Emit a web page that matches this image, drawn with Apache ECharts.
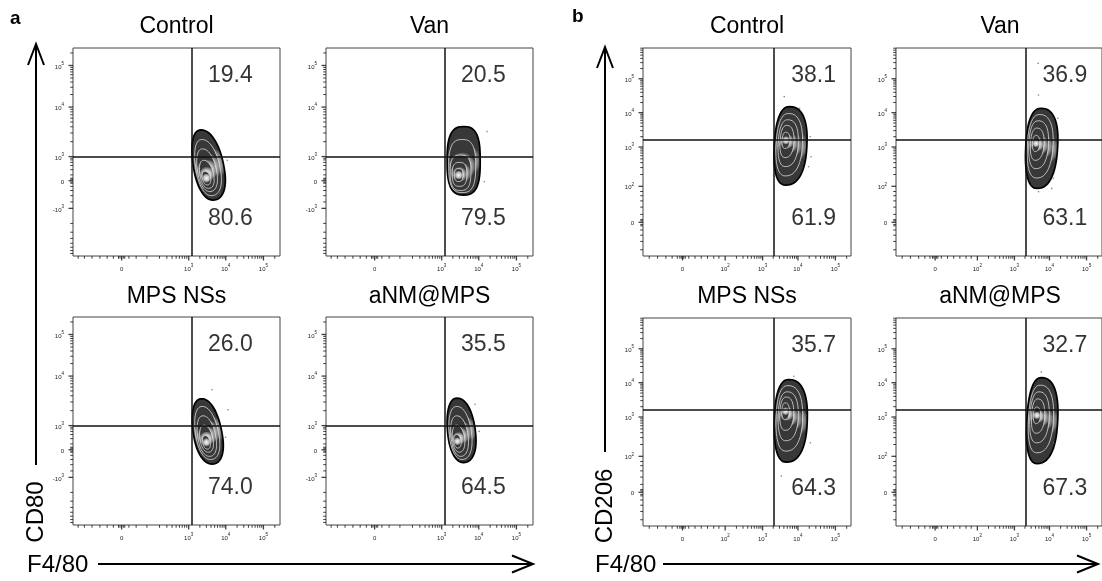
<!DOCTYPE html>
<html>
<head>
<meta charset="utf-8">
<script src="https://cdn.jsdelivr.net/npm/echarts@6/dist/echarts.min.js"></script>
<style>
  html, body { margin: 0; padding: 0; background: #fff; }
  #chart { width: 1102px; height: 581px; }
</style>
</head>
<body>
<div id="chart"></div>
<script>
// ---- data (display scale 0-100 on both axes) ----
const groupsA = ["Control", "Van", "MPS NSs", "aNM@MPS"];
const upperA = [19.4, 20.5, 26.0, 35.5];
const lowerA = [80.6, 79.5, 74.0, 64.5];
const groupsB = ["Control", "Van", "MPS NSs", "aNM@MPS"];
const upperB = [38.1, 36.9, 35.7, 32.7];
const lowerB = [61.9, 63.1, 64.3, 67.3];

// quadrant gates
const gateA = [57.4, 47.6];
const gateB = [62.8, 55.9];

// tick labels
const tickAxPos = [23.5, 55.9, 73.8, 92];
const tickAxText = ["0", "10^3", "10^4", "10^5"];
const tickAyPos = [22.9, 36.2, 47.8, 71.6, 91.6];
const tickAyText = ["-10^3", "0", "10^3", "10^4", "10^5"];
const tickBxPos = [19, 39.5, 57.5, 74.5, 92.5];
const tickBxText = ["0", "10^2", "10^3", "10^4", "10^5"];
const tickByPos = [16.2, 33.5, 52.4, 68.9, 85.2];
const tickByText = ["0", "10^2", "10^3", "10^4", "10^5"];

// contour levels, outer -> inner: [cx, cy, left, right, top, bottom]
const blobA_control = [[65, 42, 6.7, 8.1, 18.6, 15.1], [64.8, 41, 5.3, 6.5, 15, 12], [64.5, 40, 4.2, 5, 11.5, 9], [64.4, 38.5, 3, 3.6, 7.5, 6], [64.3, 37.2, 1.8, 2.2, 3.5, 3]];
const blobA_van = [[66.5, 45.7, 8, 8, 16.5, 16.4], [65.8, 43, 6.5, 6.5, 13, 12.5], [65, 40.5, 5, 5, 8, 9], [64.5, 39.5, 3.5, 3.5, 5.5, 6], [64.1, 39, 2, 2, 3, 3.2]];
const blobA_mps = [[65, 43, 6.7, 7.2, 17.7, 13.7], [64.8, 42.5, 5.4, 5.8, 14.5, 11], [64.6, 41.5, 4.2, 4.5, 11, 8.5], [64.5, 40.5, 3, 3.2, 7.5, 5.5], [64.4, 39.5, 1.7, 1.9, 3.5, 3]];
const blobA_anm = [[65, 44, 6.2, 7.3, 17, 14], [64.6, 43, 5, 5.8, 14, 11.5], [64.2, 42, 3.8, 4.5, 10.5, 9], [63.8, 41, 2.7, 3.2, 7, 6], [63.4, 40, 1.6, 1.8, 3.5, 3]];
const blobB_control = [[69.5, 53, 6.4, 9.3, 18.8, 18.9], [69.2, 53.5, 5.2, 7.4, 15, 15], [69, 54, 4, 5.6, 11.5, 11], [68.7, 54.8, 2.8, 3.8, 8, 7.5], [68.4, 55.5, 1.5, 2.2, 4, 3.8]];
const blobB_van = [[69.5, 53, 6.5, 9, 18, 20.5], [69, 53.5, 5.2, 7.2, 14.5, 16], [68.5, 54, 4, 5.5, 11, 12], [68, 54, 2.7, 3.8, 7.5, 8], [67.7, 54.2, 1.4, 2, 3.8, 4]];
const blobB_mps = [[69.5, 51, 6.4, 9.5, 19.4, 20.3], [69.2, 52, 5.2, 7.5, 15.5, 16], [69, 53, 4, 5.6, 11.5, 12], [68.6, 54, 2.8, 3.8, 8, 8], [68.3, 55.2, 1.5, 2, 4, 4]];
const blobB_anm = [[69.5, 50.5, 6, 9, 20.8, 20.5], [69.2, 51.2, 4.9, 7.2, 16.5, 16], [68.8, 52, 3.8, 5.5, 12.5, 12], [68.4, 52.6, 2.6, 3.7, 8.5, 8], [68.1, 53.2, 1.4, 2, 4, 4]];
// [shear, squareness] of each blob
const blobShape = [[-0.17, 2.2], [0, 2.8], [-0.16, 2.2], [-0.1, 2.2], [0.05, 2.4], [0.05, 2.4], [0.03, 2.4], [0.05, 2.4]];

// outlier events
const dotsA_control = [[74.5, 46], [71, 30]];
const dotsA_van = [[77.8, 59.8], [76.5, 35.7]];
const dotsA_mps = [[67.1, 65], [74.9, 55.4], [73.7, 42.2]];
const dotsA_anm = [[72, 58], [74, 45]];
const dotsB_control = [[67.9, 76.6], [75.3, 71], [80.4, 57.4], [80.8, 47.7], [79.6, 42.9]];
const dotsB_van = [[69, 92.6], [69.2, 77.4], [78.5, 66.2], [76.4, 37.4], [75.6, 32.5], [69.2, 30.9]];
const dotsB_mps = [[72.5, 72], [80.5, 40], [66.5, 24]];
const dotsB_anm = [[70.5, 74], [76.5, 40], [71, 30]];

// ---- layout ----
const FONT = "'Liberation Sans', Arial, sans-serif";
const grids = [
  { left: 73, top: 48, width: 207, height: 208 },
  { left: 326, top: 48, width: 207, height: 208 },
  { left: 73, top: 317, width: 207, height: 208 },
  { left: 326, top: 317, width: 207, height: 208 },
  { left: 643, top: 48, width: 208, height: 208 },
  { left: 896, top: 48, width: 208, height: 208 },
  { left: 643, top: 318, width: 208, height: 208 },
  { left: 896, top: 318, width: 208, height: 208 }
];

// minor tick positions on the display scale (log decades between majors)
function logMinors(p0, p1, limit) {
  const out = [];
  for (let m = 2; m <= 9; m++) {
    const v = p0 + (p1 - p0) * Math.log10(m);
    if (limit === undefined || (v <= limit && v >= 0)) out.push(v);
  }
  return out;
}
function mirrorMinors(p0, d) {
  const out = [];
  for (let m = 2; m <= 9; m++) {
    const v = p0 - d * Math.log10(m);
    if (v >= 0) out.push(v);
  }
  return out;
}
const minorAx = [].concat(
  [2.5, 5.5, 9.2, 13, 16.5, 19.5, 22, 22.7, 24.3, 25, 27, 30.5, 35.7],
  logMinors(35.7, 55.9), logMinors(55.9, 73.8), logMinors(73.8, 92),
  logMinors(92, 110.2, 100));
const minorAy = [].concat(
  mirrorMinors(22.9, 24), [26, 29, 31.5, 33.5, 35, 35.5, 36.9, 37.4, 39, 41.5, 43.5, 45, 46.2, 47],
  logMinors(47.8, 71.6), logMinors(71.6, 91.6), logMinors(91.6, 111.6, 100));
const minorBx = [].concat(
  [3, 7, 11, 14, 16.5, 17.7, 18.4, 19.6, 20.3, 22, 25, 28, 31, 34, 36.5],
  logMinors(39.5, 57.5), logMinors(57.5, 74.5), logMinors(74.5, 92.5),
  logMinors(92.5, 110.5, 100));
const minorBy = [].concat(
  [3, 7, 10, 12.5, 14.5, 15.2, 16.9, 17.5, 20, 23.5, 26.5, 29, 31],
  logMinors(33.5, 52.4), logMinors(52.4, 68.9), logMinors(68.9, 85.2),
  logMinors(85.2, 101.5, 100));

function richText(t) {
  const p = t.split("^");
  return p.length === 1 ? "{b|" + t + "}" : "{b|" + p[0] + "}{s|" + p[1] + "}";
}
const labelRich = {
  b: { fontSize: 6, fontFamily: FONT, color: "#222", lineHeight: 9, verticalAlign: "bottom" },
  s: { fontSize: 4.5, fontFamily: FONT, color: "#222", lineHeight: 9, verticalAlign: "top" }
};

function makeAxis(dir, g, pos, text) {
  const isX = dir === "x";
  return {
    type: "value", gridIndex: g, min: 0, max: 100,
    position: isX ? "bottom" : "left",
    axisLine: { show: false }, splitLine: { show: false }, axisTick: { show: false },
    axisLabel: {
      show: true, customValues: pos, margin: isX ? 7 : 9, rich: labelRich,
      formatter: function (v) {
        const i = pos.findIndex(function (p) { return Math.abs(p - v) < 0.01; });
        return i < 0 ? "" : richText(text[i]);
      }
    }
  };
}

// tick marks: thin rect symbols placed on the frame edge through the axis scale
function tickSeries(g, dir, positions, len, width) {
  const isX = dir === "x";
  return {
    type: "scatter", xAxisIndex: g, yAxisIndex: g, silent: true, clip: false, z: 6,
    symbol: "rect",
    symbolSize: isX ? [width, len] : [len, width],
    symbolOffset: isX ? [0, len / 2] : [-len / 2, 0],
    itemStyle: { color: "#111" },
    data: positions.map(function (p) { return isX ? [p, 0] : [0, p]; })
  };
}

const blobs = [blobA_control, blobA_van, blobA_mps, blobA_anm, blobB_control, blobB_van, blobB_mps, blobB_anm];
const dots = [dotsA_control, dotsA_van, dotsA_mps, dotsA_anm, dotsB_control, dotsB_van, dotsB_mps, dotsB_anm];
const uppers = upperA.concat(upperB);
const lowers = lowerA.concat(lowerB);

const bandFill = {
  type: "radial", x: 0.5, y: 0.5, r: 0.5,
  colorStops: [
    { offset: 0, color: "#fafafa" }, { offset: 0.55, color: "#c4c4c4" },
    { offset: 0.85, color: "#767676" }, { offset: 1, color: "#383838" }
  ]
};

function blobRenderer(shear, n) {
  return function (params, api) {
    const cx = api.value(0), cy = api.value(1), L = api.value(2), R = api.value(3), T = api.value(4), B = api.value(5);
    const e = 2 / n, pts = [];
    for (let k = 0; k < 60; k++) {
      const t = k / 60 * 2 * Math.PI, c = Math.cos(t), s = Math.sin(t);
      const y = cy + Math.sign(s) * Math.pow(Math.abs(s), e) * (s > 0 ? T : B);
      const x = cx + Math.sign(c) * Math.pow(Math.abs(c), e) * (c > 0 ? R : L) + shear * (y - cy);
      pts.push(api.coord([x, y]));
    }
    const outer = params.dataIndex === 0;
    return {
      type: "polygon", shape: { points: pts },
      style: { fill: bandFill, stroke: outer ? "#000" : "#f2f2f2", lineWidth: outer ? 1.7 : 0.7 }
    };
  };
}

const xAxes = [], yAxes = [], series = [];
for (let g = 0; g < 8; g++) {
  const isA = g < 4;
  const xPos = isA ? tickAxPos : tickBxPos, yPos = isA ? tickAyPos : tickByPos;
  xAxes.push(makeAxis("x", g, xPos, isA ? tickAxText : tickBxText));
  yAxes.push(makeAxis("y", g, yPos, isA ? tickAyText : tickByText));
  series.push(tickSeries(g, "x", xPos, 4.5, 1.3));
  series.push(tickSeries(g, "x", isA ? minorAx : minorBx, 2.8, 1));
  series.push(tickSeries(g, "y", yPos, 4.5, 1.3));
  series.push(tickSeries(g, "y", isA ? minorAy : minorBy, 2.8, 1));
  const gate = isA ? gateA : gateB;
  const px = isA ? 76 : 82;
  series.push({
    type: "custom", xAxisIndex: g, yAxisIndex: g, z: 2, silent: true,
    encode: { x: 0, y: 1 },
    renderItem: blobRenderer(blobShape[g][0], blobShape[g][1]),
    data: blobs[g]
  });
  series.push({
    type: "scatter", xAxisIndex: g, yAxisIndex: g, z: 3, silent: true,
    symbolSize: 1.6, itemStyle: { color: "#666" },
    data: dots[g],
    markLine: {
      silent: true, symbol: "none", animation: false,
      label: { show: false },
      lineStyle: { color: "#111", width: 1.5, type: "solid" },
      emphasis: { disabled: true },
      data: [{ xAxis: gate[0] }, { yAxis: gate[1] }]
    }
  });
  series.push({
    type: "scatter", xAxisIndex: g, yAxisIndex: g, z: 4, silent: true,
    symbolSize: 0,
    label: {
      show: true, position: "inside", fontSize: 23, fontFamily: FONT, color: "#000",
      formatter: function (p) { return p.value[2].toFixed(1); }
    },
    data: [[px, 86.5, uppers[g]], [px, 17.8, lowers[g]]]
  });
}

const titleY = [27, 297];
const graphics = [
  { type: "text", x: 10, y: 19, style: { text: "a", font: "bold 19px " + FONT, fill: "#000", textVerticalAlign: "middle" } },
  { type: "text", x: 572, y: 17, style: { text: "b", font: "bold 19px " + FONT, fill: "#000", textVerticalAlign: "middle" } }
];
grids.forEach(function (gr, i) {
  const names = i < 4 ? groupsA : groupsB;
  graphics.push({
    type: "text", x: gr.left + gr.width / 2, y: titleY[(i % 4) < 2 ? 0 : 1],
    style: { text: names[i % 4], font: "23px " + FONT, fill: "#000", textAlign: "center", textVerticalAlign: "middle" }
  });
});
function arrowY(x, top, bottom) {
  return [
    { type: "line", shape: { x1: x, y1: top, x2: x, y2: bottom }, style: { stroke: "#000", lineWidth: 2 } },
    { type: "polyline", shape: { points: [[x - 8, top + 21], [x, top], [x + 8, top + 21]] }, style: { stroke: "#000", lineWidth: 2, fill: null } }
  ];
}
function arrowX(left, right, y) {
  return [
    { type: "line", shape: { x1: left, y1: y, x2: right, y2: y }, style: { stroke: "#000", lineWidth: 2 } },
    { type: "polyline", shape: { points: [[right - 21, y - 8.5], [right, y], [right - 21, y + 8.5]] }, style: { stroke: "#000", lineWidth: 2, fill: null } }
  ];
}
graphics.push.apply(graphics, arrowY(36, 44, 465));
graphics.push.apply(graphics, arrowX(98, 533, 564));
graphics.push.apply(graphics, arrowY(605, 47, 452));
graphics.push.apply(graphics, arrowX(663, 1098, 564));
graphics.push(
  { type: "text", x: 36, y: 512, rotation: Math.PI / 2, style: { text: "CD80", font: "24px " + FONT, fill: "#000", textAlign: "center", textVerticalAlign: "middle" } },
  { type: "text", x: 605, y: 506, rotation: Math.PI / 2, style: { text: "CD206", font: "24px " + FONT, fill: "#000", textAlign: "center", textVerticalAlign: "middle" } },
  { type: "text", x: 27, y: 565, style: { text: "F4/80", font: "24px " + FONT, fill: "#000", textVerticalAlign: "middle" } },
  { type: "text", x: 595, y: 565, style: { text: "F4/80", font: "24px " + FONT, fill: "#000", textVerticalAlign: "middle" } }
);

const chart = echarts.init(document.getElementById("chart"));
chart.setOption({
  animation: false,
  backgroundColor: "#fff",
  grid: grids.map(function (gr) {
    return Object.assign({ show: true, borderColor: "#444", borderWidth: 1, backgroundColor: "transparent", containLabel: false }, gr);
  }),
  xAxis: xAxes,
  yAxis: yAxes,
  series: series,
  graphic: graphics
});
</script>
</body>
</html>
